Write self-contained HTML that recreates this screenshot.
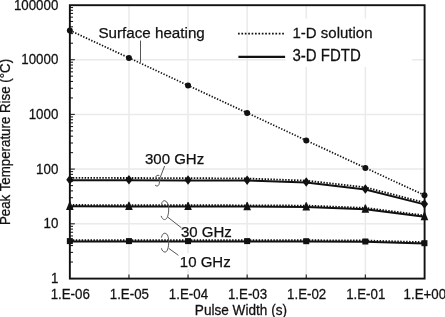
<!DOCTYPE html>
<html><head><meta charset="utf-8"><style>
html,body{margin:0;padding:0;background:#fff;width:445px;height:317px;overflow:hidden;}
svg{display:block;font-family:"Liberation Sans",sans-serif;will-change:transform;}
</style></head><body>
<svg width="445" height="317" viewBox="0 0 445 317"><g stroke="#eaeaea" stroke-width="1.5"><line x1="128.95" y1="5.2" x2="128.95" y2="278.6"/><line x1="188.05" y1="5.2" x2="188.05" y2="278.6"/><line x1="247.15" y1="5.2" x2="247.15" y2="278.6"/><line x1="306.25" y1="5.2" x2="306.25" y2="278.6"/><line x1="365.35" y1="5.2" x2="365.35" y2="278.6"/><line x1="69.85" y1="223.80" x2="424.6" y2="223.80"/><line x1="69.85" y1="169.10" x2="424.6" y2="169.10"/><line x1="69.85" y1="114.40" x2="424.6" y2="114.40"/><line x1="69.85" y1="59.70" x2="424.6" y2="59.70"/></g>
<rect x="285.5" y="18.5" width="126.5" height="48.5" fill="#fff"/>
<rect x="179" y="224.6" width="54" height="13.8" fill="#fff"/>
<rect x="177.5" y="253.2" width="55" height="15.8" fill="#fff"/>
<g stroke="#222" stroke-width="1.1"><line x1="69.85" y1="262.03" x2="73.05" y2="262.03"/><line x1="69.85" y1="252.40" x2="73.05" y2="252.40"/><line x1="69.85" y1="245.57" x2="73.05" y2="245.57"/><line x1="69.85" y1="240.27" x2="73.05" y2="240.27"/><line x1="69.85" y1="235.94" x2="73.05" y2="235.94"/><line x1="69.85" y1="232.27" x2="73.05" y2="232.27"/><line x1="69.85" y1="229.10" x2="73.05" y2="229.10"/><line x1="69.85" y1="226.30" x2="73.05" y2="226.30"/><line x1="69.85" y1="278.50" x2="74.85" y2="278.50"/><line x1="69.85" y1="207.33" x2="73.05" y2="207.33"/><line x1="69.85" y1="197.70" x2="73.05" y2="197.70"/><line x1="69.85" y1="190.87" x2="73.05" y2="190.87"/><line x1="69.85" y1="185.57" x2="73.05" y2="185.57"/><line x1="69.85" y1="181.24" x2="73.05" y2="181.24"/><line x1="69.85" y1="177.57" x2="73.05" y2="177.57"/><line x1="69.85" y1="174.40" x2="73.05" y2="174.40"/><line x1="69.85" y1="171.60" x2="73.05" y2="171.60"/><line x1="69.85" y1="223.80" x2="74.85" y2="223.80"/><line x1="69.85" y1="152.63" x2="73.05" y2="152.63"/><line x1="69.85" y1="143.00" x2="73.05" y2="143.00"/><line x1="69.85" y1="136.17" x2="73.05" y2="136.17"/><line x1="69.85" y1="130.87" x2="73.05" y2="130.87"/><line x1="69.85" y1="126.54" x2="73.05" y2="126.54"/><line x1="69.85" y1="122.87" x2="73.05" y2="122.87"/><line x1="69.85" y1="119.70" x2="73.05" y2="119.70"/><line x1="69.85" y1="116.90" x2="73.05" y2="116.90"/><line x1="69.85" y1="169.10" x2="74.85" y2="169.10"/><line x1="69.85" y1="97.93" x2="73.05" y2="97.93"/><line x1="69.85" y1="88.30" x2="73.05" y2="88.30"/><line x1="69.85" y1="81.47" x2="73.05" y2="81.47"/><line x1="69.85" y1="76.17" x2="73.05" y2="76.17"/><line x1="69.85" y1="71.84" x2="73.05" y2="71.84"/><line x1="69.85" y1="68.17" x2="73.05" y2="68.17"/><line x1="69.85" y1="65.00" x2="73.05" y2="65.00"/><line x1="69.85" y1="62.20" x2="73.05" y2="62.20"/><line x1="69.85" y1="114.40" x2="74.85" y2="114.40"/><line x1="69.85" y1="43.23" x2="73.05" y2="43.23"/><line x1="69.85" y1="33.60" x2="73.05" y2="33.60"/><line x1="69.85" y1="26.77" x2="73.05" y2="26.77"/><line x1="69.85" y1="21.47" x2="73.05" y2="21.47"/><line x1="69.85" y1="17.14" x2="73.05" y2="17.14"/><line x1="69.85" y1="13.47" x2="73.05" y2="13.47"/><line x1="69.85" y1="10.30" x2="73.05" y2="10.30"/><line x1="69.85" y1="7.50" x2="73.05" y2="7.50"/><line x1="69.85" y1="59.70" x2="74.85" y2="59.70"/><line x1="128.95" y1="278.6" x2="128.95" y2="274.6"/><line x1="188.05" y1="278.6" x2="188.05" y2="274.6"/><line x1="247.15" y1="278.6" x2="247.15" y2="274.6"/><line x1="306.25" y1="278.6" x2="306.25" y2="274.6"/><line x1="365.35" y1="278.6" x2="365.35" y2="274.6"/></g>
<rect x="69.85" y="5.2" width="354.75" height="273.40" fill="none" stroke="#111" stroke-width="1.9"/>
<polyline points="69.85,30.40 128.95,57.90 188.05,85.40 247.15,112.90 306.25,140.40 365.35,167.90 424.45,195.20" fill="none" stroke="#111" stroke-width="1.7" stroke-dasharray="1.35 1.6"/>
<polyline points="69.85,177.90 128.95,178.00 188.05,178.10 247.15,178.50 306.25,180.60 365.35,187.30 424.45,202.60" fill="none" stroke="#111" stroke-width="1.8" stroke-dasharray="1.5 1.45"/>
<polyline points="69.85,205.00 128.95,205.10 188.05,205.20 247.15,205.30 306.25,205.60 365.35,207.90 424.45,215.40" fill="none" stroke="#111" stroke-width="1.8" stroke-dasharray="1.5 1.45"/>
<polyline points="69.85,240.10 128.95,240.10 188.05,240.10 247.15,240.10 306.25,240.20 365.35,240.50 424.45,242.20" fill="none" stroke="#111" stroke-width="1.8" stroke-dasharray="1.5 1.45"/>
<polyline points="69.85,180.20 128.95,180.30 188.05,180.40 247.15,180.60 306.25,182.50 365.35,189.50 424.45,204.40" fill="none" stroke="#111" stroke-width="2" stroke-linejoin="round"/>
<polyline points="69.85,206.30 128.95,206.40 188.05,206.50 247.15,206.60 306.25,206.90 365.35,209.20 424.45,216.70" fill="none" stroke="#111" stroke-width="2" stroke-linejoin="round"/>
<polyline points="69.85,241.40 128.95,241.40 188.05,241.40 247.15,241.40 306.25,241.50 365.35,241.80 424.45,243.50" fill="none" stroke="#111" stroke-width="2" stroke-linejoin="round"/>
<g fill="#111"><circle cx="69.85" cy="30.40" r="3"/><circle cx="128.95" cy="57.90" r="3"/><circle cx="188.05" cy="85.40" r="3"/><circle cx="247.15" cy="112.90" r="3"/><circle cx="306.25" cy="140.40" r="3"/><circle cx="365.35" cy="167.90" r="3"/><circle cx="424.45" cy="195.20" r="3"/><path d="M69.85 175.00L73.45 179.70L69.85 184.50L66.25 179.70Z"/><path d="M128.95 175.10L132.55 179.80L128.95 184.60L125.35 179.80Z"/><path d="M188.05 175.20L191.65 179.90L188.05 184.70L184.45 179.90Z"/><path d="M247.15 175.40L250.75 180.10L247.15 184.90L243.55 180.10Z"/><path d="M306.25 177.30L309.85 182.00L306.25 186.80L302.65 182.00Z"/><path d="M365.35 184.30L368.95 189.00L365.35 193.80L361.75 189.00Z"/><path d="M424.45 199.20L428.05 203.90L424.45 208.70L420.85 203.90Z"/><path d="M69.35 201.70L70.35 201.70L73.65 209.90L66.05 209.90Z"/><path d="M128.45 201.80L129.45 201.80L132.75 210.00L125.15 210.00Z"/><path d="M187.55 201.90L188.55 201.90L191.85 210.10L184.25 210.10Z"/><path d="M246.65 202.00L247.65 202.00L250.95 210.20L243.35 210.20Z"/><path d="M305.75 202.30L306.75 202.30L310.05 210.50L302.45 210.50Z"/><path d="M364.85 204.60L365.85 204.60L369.15 212.80L361.55 212.80Z"/><path d="M423.95 212.10L424.95 212.10L428.25 220.30L420.65 220.30Z"/><rect x="66.85" y="238.10" width="6" height="6"/><rect x="125.95" y="238.10" width="6" height="6"/><rect x="185.05" y="238.10" width="6" height="6"/><rect x="244.15" y="238.10" width="6" height="6"/><rect x="303.25" y="238.20" width="6" height="6"/><rect x="362.35" y="238.50" width="6" height="6"/><rect x="421.45" y="240.20" width="6" height="6"/></g>
<g fill="none" stroke="#555" stroke-width="1"><line x1="140.5" y1="40.5" x2="140.5" y2="62"/><path d="M164.6 166 L160.2 177.5 C159.6 180 159.6 183 158.8 184.8 C158 186.3 156.3 186.6 155.1 185"/><path d="M155.6 177.2 C156.2 175.5 157.6 174.8 159.3 175.6"/><path d="M161.6 204 C162 201.5 163.5 200.5 164.8 200.7 C168 201.5 168.7 206 168.7 209 C168.7 214 167.5 219.6 164.5 219.6 C163 219.6 161.8 218 161.1 215.9"/><line x1="167.7" y1="217.1" x2="181.5" y2="227.9"/><path d="M161.4 237.6 C162 234.5 163.5 233.2 164.8 233.2 C168 233.5 168.7 238 168.7 242 C168.7 247 167.5 252.1 165 252.1 C163.3 252.1 162 250.5 161.4 248.3"/><line x1="168.7" y1="248.3" x2="178.4" y2="255.3"/></g>
<line x1="238" y1="33.6" x2="285" y2="33.6" stroke="#111" stroke-width="1.8" stroke-dasharray="1.7 1.7"/>
<line x1="238.4" y1="56.9" x2="285.1" y2="56.9" stroke="#111" stroke-width="2.2"/>
<g font-family="Liberation Sans, sans-serif" fill="#111" stroke="#111" stroke-width="0.25"><text transform="translate(58.30 283.10) scale(1 1.07)" text-anchor="end" font-size="13.3">1</text><text transform="translate(58.30 228.40) scale(1 1.07)" text-anchor="end" font-size="13.3">10</text><text transform="translate(58.30 173.70) scale(1 1.07)" text-anchor="end" font-size="13.3">100</text><text transform="translate(58.30 119.00) scale(1 1.07)" text-anchor="end" font-size="13.3">1000</text><text transform="translate(58.30 64.30) scale(1 1.07)" text-anchor="end" font-size="13.3">10000</text><text transform="translate(58.30 9.60) scale(1 1.07)" text-anchor="end" font-size="13.3">100000</text><text transform="translate(70.25 299.30) scale(1 1.07)" text-anchor="middle" font-size="13.3">1.E-06</text><text transform="translate(129.35 299.30) scale(1 1.07)" text-anchor="middle" font-size="13.3">1.E-05</text><text transform="translate(188.45 299.30) scale(1 1.07)" text-anchor="middle" font-size="13.3">1.E-04</text><text transform="translate(247.55 299.30) scale(1 1.07)" text-anchor="middle" font-size="13.3">1.E-03</text><text transform="translate(306.65 299.30) scale(1 1.07)" text-anchor="middle" font-size="13.3">1.E-02</text><text transform="translate(365.75 299.30) scale(1 1.07)" text-anchor="middle" font-size="13.3">1.E-01</text><text transform="translate(424.85 299.30) scale(1 1.07)" text-anchor="middle" font-size="13.3">1.E+00</text><text transform="translate(240.90 314.90) scale(1 1.07)" text-anchor="middle" font-size="13.6">Pulse Width (s)</text><text transform="translate(9.90 142.00) rotate(-90) scale(1 1.07)" text-anchor="middle" font-size="13.3">Peak Temperature Rise (°C)</text><text transform="translate(292.50 37.50) scale(1 1.03)" font-size="15">1-D solution</text><text transform="translate(292.50 60.90) scale(1 1.05)" font-size="15">3-D FDTD</text><text transform="translate(98.40 38.00) scale(1 1.0)" font-size="15.2">Surface heating</text><text transform="translate(145.00 164.20) scale(1 1.0)" font-size="15">300 GHz</text><text transform="translate(181.00 237.20) scale(1 1.0)" font-size="15">30 GHz</text><text transform="translate(179.80 266.80) scale(1 1.0)" font-size="15">10 GHz</text></g></svg>
</body></html>
